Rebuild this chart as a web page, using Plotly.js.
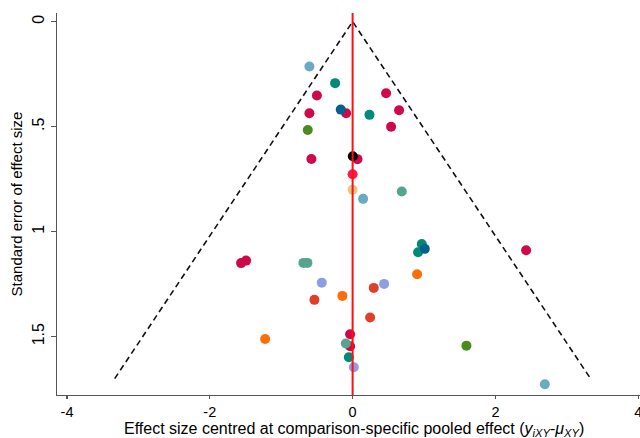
<!DOCTYPE html>
<html>
<head>
<meta charset="utf-8">
<script src="https://cdn.plot.ly/plotly-3.0.1.min.js"></script>
<style>html,body{margin:0;padding:0;background:#fff;}#chart{width:640px;height:438px;}</style>
</head>
<body>
<div id="chart"></div>
<script>
// ---- data ----
const groups = ['lightblue','teal','crimson','blue','green','seagreen','lavender','orange','redorange','black','pinkred','tan'];
const effect = [
  -0.605, 0.147, 2.692,
  -0.245, 0.236, 0.969, 0.917, -0.053,
  -0.50, -0.605, -0.091, -0.577, 0.469, 0.651, 0.539, 0.068, 2.430, -1.562, -1.492, -0.035, -0.035,
  -0.166, 1.011,
  -0.628, 1.594,
  0.689, -0.689, -0.633, -0.095,
  -0.432, 0.441, 0.017,
  -0.143, -1.225, 0.903,
  -0.535, 0.296, 0.245,
  0.003,
  0.0,
  0.0
];
const stderr = [
  0.214, 0.844, 1.727,
  0.293, 0.444, 1.059, 1.098, 1.598,
  0.352, 0.436, 0.436, 0.654, 0.341, 0.422, 0.501, 0.655, 1.089, 1.150, 1.138, 1.489, 1.546,
  0.419, 1.082,
  0.516, 1.543,
  0.809, 1.149, 1.149, 1.533,
  1.243, 1.249, 1.646,
  1.306, 1.511, 1.203,
  1.325, 1.268, 1.409,
  0.641,
  0.727,
  0.801
];
const group = [
  'lightblue','lightblue','lightblue',
  'teal','teal','teal','teal','teal',
  'crimson','crimson','crimson','crimson','crimson','crimson','crimson','crimson','crimson','crimson','crimson','crimson','crimson',
  'blue','blue',
  'green','green',
  'seagreen','seagreen','seagreen','seagreen',
  'lavender','lavender','lavender',
  'orange','orange','orange',
  'redorange','redorange','redorange',
  'black',
  'pinkred',
  'tan'
];
const seMax = 1.7;
const zCrit = 1.96;
const xTickVals = [-4, -2, 0, 2, 4];
const xTickText = ['-4', '-2', '0', '2', '4'];
const yTickVals = [0, 0.5, 1, 1.5];
const yTickText = ['0', '.5', '1', '1.5'];
const xTitle = 'Effect size centred at comparison-specific pooled effect (<i>y</i><sub><i>iXY</i></sub>-<i>μ</i><sub><i>XY</i></sub>)';
const yTitle = 'Standard error of effect size';

// ---- styles ----
const colours = {
  lightblue: '#68abc3', teal: '#008a78', crimson: '#cf0848', blue: '#00618f',
  green: '#4b8b1d', seagreen: '#56a48f', lavender: '#8f9de4', orange: '#ff6d0a',
  redorange: '#df3f2b', black: '#000000', pinkred: '#ff1a4a', tan: '#e8c580'
};

const traces = [];
// funnel (pseudo 95% limits)
traces.push({
  x: [-zCrit * seMax, 0, zCrit * seMax],
  y: [seMax, 0, seMax],
  mode: 'lines', type: 'scatter', hoverinfo: 'skip',
  line: {color: '#111', width: 1.6, dash: '6px,4px'},
  showlegend: false
});
groups.forEach(g => {
  const xs = [], ys = [];
  group.forEach((gg, i) => { if (gg === g) { xs.push(effect[i]); ys.push(stderr[i]); } });
  traces.push({
    x: xs, y: ys, mode: 'markers', type: 'scatter',
    marker: {color: colours[g], size: 10, line: {width: 0}},
    showlegend: false
  });
});

const layout = {
  width: 640, height: 438,
  margin: {l: 57, r: 0, t: 13, b: 43},
  paper_bgcolor: '#fff', plot_bgcolor: '#fff',
  font: {family: 'Arial, "Liberation Sans", sans-serif', color: '#000', size: 14},
  showlegend: false,
  xaxis: {
    range: [-4.14, 4.025], showgrid: false, zeroline: false,
    showline: true, linecolor: '#555', linewidth: 1.3,
    ticks: 'outside', ticklen: 3, tickcolor: '#555', tickwidth: 1.3,
    tickmode: 'array', tickvals: xTickVals, ticktext: xTickText,
    tickfont: {size: 14.5}, ticklabeloverflow: 'allow'
  },
  yaxis: {
    range: [1.778, -0.041], showgrid: false, zeroline: false,
    showline: true, linecolor: '#555', linewidth: 1.3,
    ticks: 'outside', ticklen: 5, tickcolor: '#555', tickwidth: 1.3,
    tickmode: 'array', tickvals: yTickVals, ticktext: yTickText,
    tickangle: -90, tickfont: {size: 16},
    title: {text: yTitle, font: {size: 15}, standoff: 4}
  },
  annotations: [{
    text: xTitle, xref: 'paper', yref: 'paper', x: 0.509, y: 0,
    xanchor: 'center', yanchor: 'bottom', yshift: -45, showarrow: false,
    borderpad: 0, font: {size: 16, color: '#000'}
  }],
  shapes: [{
    type: 'line', xref: 'x', yref: 'paper', x0: 0, x1: 0, y0: 0, y1: 1,
    line: {color: '#ff1010', width: 2}, layer: 'above'
  }]
};

Plotly.newPlot('chart', traces, layout, {displayModeBar: false, staticPlot: true});
</script>
</body>
</html>
